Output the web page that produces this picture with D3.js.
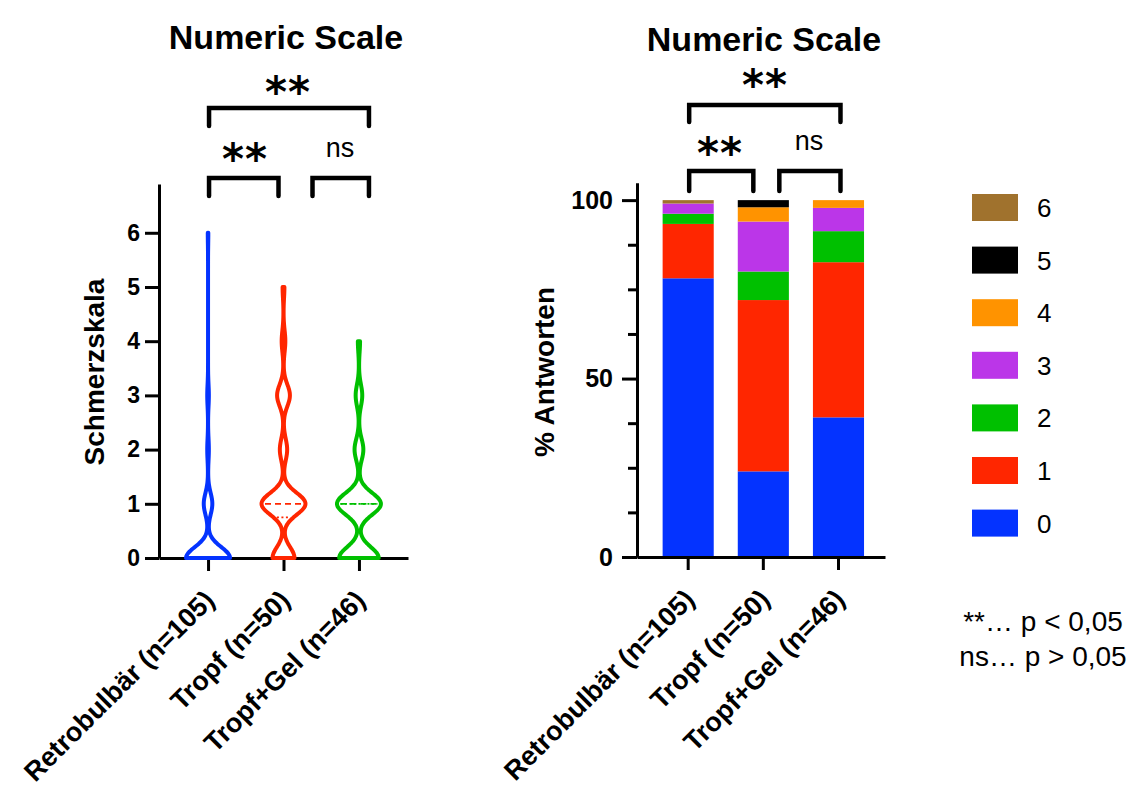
<!DOCTYPE html>
<html><head><meta charset="utf-8">
<script src="https://cdn.jsdelivr.net/npm/d3@7"></script>
<style>body{margin:0;background:#fff} svg{display:block}</style>
</head><body><svg id="c" width="1143" height="788"></svg>
<script>
// ---------- DATA ----------
const title = "Numeric Scale";
const groups = ["Retrobulbär (n=105)", "Tropf (n=50)", "Tropf+Gel (n=46)"];
const scores = [0, 1, 2, 3, 4, 5, 6];
// number of answers per pain score 0..6
const countsRetrobulbar = [82, 16, 3, 3, 0, 0, 1];
const countsTropf       = [12, 24, 4, 7, 2, 1, 0];
const countsTropfGel    = [18, 20, 4, 3, 1, 0, 0];
const violinTicks = [0, 1, 2, 3, 4, 5, 6];
const percentTicks = [0, 50, 100];
const percentMinorTicks = [12.5, 25, 37.5, 62.5, 75, 87.5];
const comparisons = [[0, 2, "**"], [0, 1, "**"], [1, 2, "ns"]];
const legendKeys = ["6", "5", "4", "3", "2", "1", "0"];
const footnotes = ["**… p < 0,05", "ns… p > 0,05"];
const yTitleLeft = "Schmerzskala";
const yTitleRight = "% Antworten";

const allCounts = [countsRetrobulbar, countsTropf, countsTropfGel];

// ---------- STYLE ----------
const FONT = "'Liberation Sans', Arial, Helvetica, sans-serif";
const groupColors = ["#0433FF", "#FF2600", "#00C000"];
const scoreColors = ["#0433FF", "#FF2600", "#00C000", "#BB36E8", "#FF9300", "#000000", "#A0722D"];

const svg = d3.select("#c");

function styleAxis(g, fs) {
  g.selectAll(".domain").attr("stroke", "#000").attr("stroke-width", 3);
  g.selectAll(".tick line").attr("stroke", "#000").attr("stroke-width", 3);
  g.selectAll(".tick text").attr("fill", "#000").attr("font-family", FONT)
    .attr("font-weight", "bold").attr("font-size", fs);
}

// ---------- LEFT: violin ----------
const yL = d3.scaleLinear().domain([0, 6.9]).range([558, 184]);
const xL = d3.scalePoint().domain(groups).range([159, 408]).padding(0.65);

const bw = 0.2;
function density(counts, y) {
  let s = 0;
  counts.forEach((c, k) => { s += c * Math.exp(-((y - scores[k]) ** 2) / (2 * bw * bw)); });
  return s;
}
function quantilePrism(counts, p) {
  const vals = [];
  counts.forEach((c, k) => { for (let i = 0; i < c; i++) vals.push(scores[k]); });
  const n = vals.length, pos = (n + 1) * p;
  const lo = Math.max(1, Math.floor(pos)), hi = Math.min(n, lo + 1);
  const f = pos - Math.floor(pos);
  return vals[lo - 1] + f * (vals[hi - 1] - vals[lo - 1]);
}

const yAxL = svg.append("g").attr("transform", "translate(159,0)")
  .call(d3.axisLeft(yL).tickValues(violinTicks).tickFormat(d3.format("d"))
    .tickSize(14).tickSizeOuter(0).tickPadding(5));
styleAxis(yAxL, 23);
const xAxL = svg.append("g").attr("transform", "translate(0,558)")
  .call(d3.axisBottom(xL).tickSize(13).tickSizeOuter(0).tickFormat(""));
styleAxis(xAxL, 22);

const maxHalf = 22;
const violinG = svg.append("g");
allCounts.forEach((counts, gi) => {
  const cx = xL(groups[gi]);
  const present = scores.filter((s, k) => counts[k] > 0);
  const lo = d3.min(present), hi = d3.max(present);
  const pts = d3.range(lo, hi + 0.0001, 0.02).map(y => ({ y, d: density(counts, y) }));
  const dmax = d3.max(pts, p => p.d);
  const w = d3.scaleLinear().domain([0, dmax]).range([0, maxHalf]);
  const area = d3.area().y(p => yL(p.y)).x0(p => cx - w(p.d)).x1(p => cx + w(p.d)).curve(d3.curveBasis);
  violinG.append("path").attr("d", area(pts)).attr("fill", "#fff")
    .attr("stroke", groupColors[gi]).attr("stroke-width", 4).attr("stroke-linejoin", "round");
  const med = quantilePrism(counts, 0.5), q1 = quantilePrism(counts, 0.25), q3 = quantilePrism(counts, 0.75);
  [[q1, "2,2.5"], [q3, "2,2.5"], [med, "6,4"]].forEach(([q, dash]) => {
    const half = w(density(counts, q)) - 3.5;
    if (half > 1.5 && q > lo) {
      violinG.append("line").attr("x1", cx - half).attr("x2", cx + half)
        .attr("y1", yL(q)).attr("y2", yL(q)).attr("stroke", groupColors[gi])
        .attr("stroke-width", 1.8).attr("stroke-dasharray", dash);
    }
  });
});

svg.append("text").attr("transform", "translate(104,372) rotate(-90)")
  .attr("text-anchor", "middle").attr("font-family", FONT).attr("font-weight", "bold")
  .attr("font-size", 28).text(yTitleLeft);

groups.forEach(g => {
  svg.append("text").attr("transform", `translate(${xL(g) + 8},602) rotate(-45)`)
    .attr("text-anchor", "end").attr("font-family", FONT).attr("font-weight", "bold")
    .attr("font-size", 27).text(g);
});

svg.append("text").attr("x", 286).attr("y", 49).attr("text-anchor", "middle")
  .attr("font-family", FONT).attr("font-weight", "bold").attr("font-size", 34).text(title);

// ---------- RIGHT: stacked bars ----------
const yR = d3.scaleLinear().domain([0, 104.8]).range([557, 183]);
const xR = d3.scaleBand().domain(groups).range([637, 885]).paddingInner(0.32).paddingOuter(0.31).align(0.55);

const rows = groups.map((g, gi) => {
  const n = d3.sum(allCounts[gi]);
  const o = { group: g };
  scores.forEach((s, k) => { o[s] = allCounts[gi][k] / n * 100; });
  return o;
});
const stack = d3.stack().keys(scores)(rows);
svg.append("g").selectAll("g").data(stack).join("g")
  .attr("fill", d => scoreColors[d.key])
  .selectAll("rect").data(d => d).join("rect")
  .attr("x", d => xR(d.data.group)).attr("width", xR.bandwidth())
  .attr("y", d => yR(d[1])).attr("height", d => Math.max(0, yR(d[0]) - yR(d[1])));

const yAxRminor = svg.append("g").attr("transform", "translate(637,0)")
  .call(d3.axisLeft(yR).tickValues(percentMinorTicks).tickSize(9).tickSizeOuter(0).tickFormat(""));
styleAxis(yAxRminor, 25);
const yAxR = svg.append("g").attr("transform", "translate(637,0)")
  .call(d3.axisLeft(yR).tickValues(percentTicks).tickSize(15).tickSizeOuter(0).tickPadding(9));
styleAxis(yAxR, 25);
const xAxR = svg.append("g").attr("transform", "translate(0,557)")
  .call(d3.axisBottom(d3.scalePoint().domain(groups).range([637, 885]))
    .tickValues([]).tickSize(0).tickSizeOuter(0));
styleAxis(xAxR, 22);
groups.forEach(g => {
  const cx = xR(g) + xR.bandwidth() / 2;
  svg.append("line").attr("x1", cx).attr("x2", cx).attr("y1", 557).attr("y2", 570)
    .attr("stroke", "#000").attr("stroke-width", 3);
  svg.append("text").attr("transform", `translate(${cx + 8},601) rotate(-45)`)
    .attr("text-anchor", "end").attr("font-family", FONT).attr("font-weight", "bold")
    .attr("font-size", 27).text(g);
});

svg.append("text").attr("transform", "translate(554,372) rotate(-90)")
  .attr("text-anchor", "middle").attr("font-family", FONT).attr("font-weight", "bold")
  .attr("font-size", 28).text(yTitleRight);

svg.append("text").attr("x", 764).attr("y", 51).attr("text-anchor", "middle")
  .attr("font-family", FONT).attr("font-weight", "bold").attr("font-size", 34).text(title);

// ---------- significance brackets ----------
function brackets(xpos, layout) {
  comparisons.forEach(([a, b, lab], i) => {
    const L = layout[i];
    const x1 = xpos(a) + L.dx1, x2 = xpos(b) + L.dx2;
    svg.append("path")
      .attr("d", `M${x1},${L.yb}V${L.y}H${x2}V${L.yb}`)
      .attr("fill", "none").attr("stroke", "#000").attr("stroke-width", 4.5)
      .attr("stroke-linecap", "round").attr("stroke-linejoin", "miter");
    const t = svg.append("text").attr("x", L.tx).attr("text-anchor", "middle").attr("fill", "#000").text(lab);
    if (lab === "ns") {
      t.attr("y", L.ty).attr("font-family", FONT).attr("font-size", 27);
    } else {
      t.attr("y", L.ty).attr("font-family", "'DejaVu Sans', sans-serif").attr("font-weight", "bold")
        .attr("font-size", 42).attr("letter-spacing", 1);
    }
  });
}
const pL = i => xL(groups[i]);
brackets(pL, [
  { dx1: 1, dx2: 10, y: 108, yb: 126, tx: 288, ty: 107 },
  { dx1: 1, dx2: -5, y: 178, yb: 196, tx: 245, ty: 174 },
  { dx1: 29, dx2: 10, y: 178, yb: 196, tx: 340, ty: 157 }
]);
const pR = i => xR(groups[i]) + xR.bandwidth() / 2;
brackets(pR, [
  { dx1: 1, dx2: 2, y: 105, yb: 122, tx: 765, ty: 100 },
  { dx1: 1, dx2: -10, y: 171, yb: 191, tx: 720, ty: 168 },
  { dx1: 16, dx2: 2, y: 171, yb: 191, tx: 809, ty: 150 }
]);

// ---------- legend ----------
const lg = svg.append("g");
legendKeys.forEach((k, i) => {
  const cy = 207.5 + i * 52.6;
  lg.append("rect").attr("x", 972).attr("y", cy - 13.5).attr("width", 46).attr("height", 27)
    .attr("fill", scoreColors[+k]);
  lg.append("text").attr("x", 1037).attr("y", cy + 9.5).attr("font-family", FONT)
    .attr("font-size", 26).attr("fill", "#000").text(k);
});

footnotes.forEach((f, i) => {
  svg.append("text").attr("x", 1043).attr("y", 631 + i * 35).attr("text-anchor", "middle")
    .attr("font-family", FONT).attr("font-size", 28).attr("fill", "#000").text(f);
});
</script></body></html>
